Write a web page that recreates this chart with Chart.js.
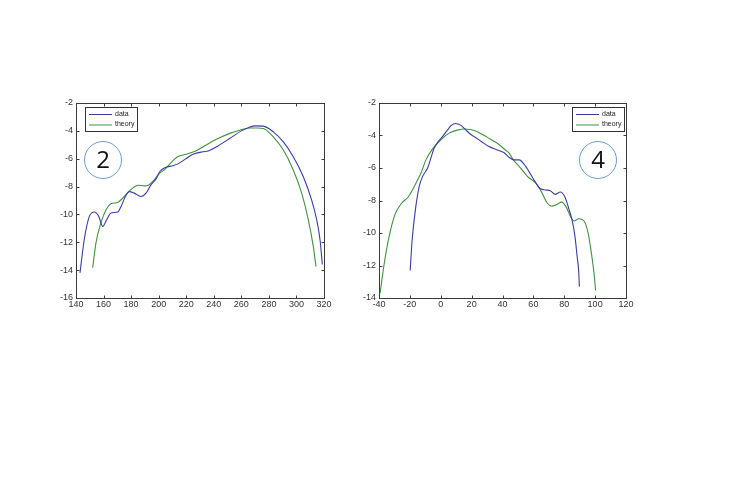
<!DOCTYPE html>
<html>
<head>
<meta charset="utf-8">
<script src="https://cdn.jsdelivr.net/npm/chart.js@4.4.1/dist/chart.umd.min.js"></script>
<style>
  html, body { margin: 0; padding: 0; background: #fff; }
  body { width: 730px; height: 486px; position: relative; overflow: hidden; }
  canvas { position: absolute; }
  #chart2 { left: 26px; top: 93px; }
  #chart4 { left: 330px; top: 93px; }
</style>
</head>
<body>
<canvas id="chart2" width="314" height="230"></canvas>
<canvas id="chart4" width="310" height="230"></canvas>
<script>
// panel 2
const leftDataX = [142.9, 146, 149.7, 153.3, 156.5, 159.4, 162.3, 165.4, 170.3, 172.7, 175.8, 178.7, 182.3, 187.2, 190.8, 194.4, 198.1, 201, 204.5, 210.5, 214, 220, 225, 232, 236, 243, 251.5, 260, 266.3, 270, 275.9, 283.2, 290.5, 297.7, 305, 311, 314.7, 317.1, 318.8];
const leftDataY = [-14.2, -11.8, -10.14, -9.83, -10.14, -10.86, -10.38, -9.9, -9.83, -9.43, -8.71, -8.36, -8.47, -8.71, -8.47, -7.88, -7.45, -6.9, -6.65, -6.5, -6.37, -5.98, -5.68, -5.5, -5.44, -5.08, -4.55, -4.0, -3.72, -3.64, -3.66, -4.07, -4.79, -5.86, -7.29, -8.95, -10.38, -11.8, -13.6];
const leftTheoryX = [152.1, 154.5, 158.1, 161.8, 165.4, 170.3, 173.9, 177.5, 181.2, 184.8, 189.6, 192.8, 196.8, 200, 204.3, 210.4, 214, 220, 227.3, 234.6, 241.9, 251.6, 258.9, 266.3, 272, 275.9, 283.2, 290.5, 297.7, 303.8, 308.6, 312.2, 314.2];
const leftTheoryY = [-13.83, -12.04, -10.61, -9.66, -9.24, -9.14, -8.83, -8.43, -8.11, -7.9, -7.95, -7.88, -7.52, -7.1, -6.79, -6.13, -5.84, -5.68, -5.42, -5.01, -4.61, -4.18, -3.95, -3.8, -3.8, -3.83, -4.43, -5.38, -6.81, -8.47, -10.38, -12.29, -13.75];

// panel 4
const rightDataX = [-19.8, -18.5, -16.4, -13.9, -11.7, -8.5, -6.4, -4.3, -2.1, 1.1, 4.3, 7.0, 9.6, 12.8, 15.9, 19.1, 22.3, 26.5, 31.2, 36.6, 40.9, 44.4, 47.3, 50.8, 55, 60.3, 64.6, 67.8, 71, 74, 77.5, 80.5, 83.1, 85.2, 86.9, 88.3, 89.4, 89.8];
const rightDataY = [-12.31, -10.38, -8.55, -7.12, -6.51, -6.0, -5.39, -4.78, -4.44, -4.07, -3.67, -3.36, -3.26, -3.36, -3.62, -3.91, -4.11, -4.38, -4.68, -4.89, -5.05, -5.35, -5.5, -5.5, -5.9, -6.72, -7.28, -7.35, -7.4, -7.62, -7.48, -7.8, -8.55, -9.26, -10.18, -11.4, -12.41, -13.3];
const rightTheoryX = [-39.3, -36.8, -33.8, -29.8, -25.6, -21, -17.1, -12.8, -9.6, -5.4, -0.1, 5.2, 10.6, 15.9, 22.3, 27.6, 32, 36.6, 41.9, 44.4, 47, 50.8, 56.1, 61.4, 65.6, 68.8, 72, 75.2, 78.3, 81.5, 84.3, 86.4, 89.4, 92.8, 95.4, 97.5, 99.2, 100.3];
const rightTheoryY = [-13.7, -12.0, -10.38, -8.9, -8.2, -7.77, -7.12, -6.31, -5.5, -4.84, -4.28, -3.87, -3.67, -3.6, -3.71, -3.97, -4.22, -4.48, -4.89, -5.1, -5.5, -5.9, -6.51, -6.92, -7.53, -8.14, -8.35, -8.24, -8.1, -8.44, -9.05, -9.26, -9.12, -9.26, -9.97, -11.19, -12.41, -13.53];

const seriesLabels = ['data', 'theory'];
const seriesColors = ['#3b3ba8', '#3f923f'];

function points(xs, ys) {
    return xs.map((x, i) => ({ x: x, y: ys[i] }));
}

// matlab-ish box, inward ticks, legend and the numbered circle
const matlabFrame = {
    id: 'matlabFrame',
    afterDraw(chart, args, opts) {
        const c = chart.ctx;
        const a = chart.chartArea;
        const xs = chart.scales.x, ys = chart.scales.y;
        const L = Math.round(a.left) + 0.5, R = Math.round(a.right) + 0.5;
        const T = Math.round(a.top) + 0.5, B = Math.round(a.bottom) + 0.5;
        c.save();
        c.strokeStyle = '#3a3a3a';
        c.lineWidth = 1;
        c.strokeRect(L, T, R - L, B - T);
        c.beginPath();
        xs.ticks.forEach(t => {
            const px = Math.round(xs.getPixelForValue(t.value)) + 0.5;
            c.moveTo(px, B); c.lineTo(px, B - 3);
            c.moveTo(px, T); c.lineTo(px, T + 3);
        });
        ys.ticks.forEach(t => {
            const py = Math.round(ys.getPixelForValue(t.value)) + 0.5;
            c.moveTo(L, py); c.lineTo(L + 3, py);
            c.moveTo(R, py); c.lineTo(R - 3, py);
        });
        c.stroke();

        // legend
        const lw = 52, lh = 24;
        const lx = opts.legendRight ? Math.round(a.right) - 2 - lw : Math.round(a.left) + 9;
        const ly = Math.round(a.top) + 4;
        c.fillStyle = '#fff';
        c.fillRect(lx + 0.5, ly + 0.5, lw, lh);
        c.strokeStyle = '#333';
        c.strokeRect(lx + 0.5, ly + 0.5, lw, lh);
        c.font = '7px "Liberation Sans", Arial, sans-serif';
        c.textBaseline = 'middle';
        chart.data.datasets.forEach((ds, i) => {
            const yy = ly + 7 + i * 10.5;
            c.strokeStyle = ds.borderColor;
            c.beginPath();
            c.moveTo(lx + 4, yy + 0.5); c.lineTo(lx + 27, yy + 0.5);
            c.stroke();
            c.fillStyle = '#222';
            c.fillText(ds.label, lx + 30, yy);
        });

        // circled panel number
        const cx = opts.legendRight ? a.right - 28 : a.left + 27;
        const cy = a.top + 57;
        c.strokeStyle = '#6f9cc8';
        c.beginPath();
        c.arc(cx, cy, 18.5, 0, Math.PI * 2);
        c.stroke();
        c.fillStyle = '#111';
        c.font = '24px "Open Sans", "Noto Sans", sans-serif';
        c.textAlign = 'center';
        c.textBaseline = 'middle';
        c.fillText(opts.number, cx, cy + 1);
        c.restore();
    }
};

function makeChart(id, dx, dy, tx, ty, xr, yr, yWidth, pad, number, legendRight) {
    return new Chart(document.getElementById(id), {
        type: 'line',
        data: {
            datasets: [
                { label: seriesLabels[0], data: points(dx, dy), borderColor: seriesColors[0], borderWidth: 1.1, pointRadius: 0, cubicInterpolationMode: 'monotone', fill: false },
                { label: seriesLabels[1], data: points(tx, ty), borderColor: seriesColors[1], borderWidth: 1.1, pointRadius: 0, cubicInterpolationMode: 'monotone', fill: false }
            ]
        },
        options: {
            responsive: false,
            animation: false,
            layout: { padding: pad },
            scales: {
                x: {
                    type: 'linear', min: xr[0], max: xr[1],
                    grid: { display: false, drawTicks: false },
                    border: { display: false },
                    ticks: { stepSize: 20, padding: 1, maxRotation: 0, autoSkip: false, color: '#333', font: { family: '"Liberation Sans", Arial, sans-serif', size: 9 } },
                    afterFit: s => { s.height = 25; }
                },
                y: {
                    min: yr[0], max: yr[1],
                    grid: { display: false, drawTicks: false },
                    border: { display: false },
                    ticks: { stepSize: 2, padding: 3, color: '#333', font: { family: '"Liberation Sans", Arial, sans-serif', size: 9 } },
                    afterFit: s => { s.width = yWidth; }
                }
            },
            plugins: {
                legend: { display: false },
                tooltip: { enabled: false },
                matlabFrame: { number: number, legendRight: legendRight }
            }
        },
        plugins: [matlabFrame]
    });
}

makeChart('chart2', leftDataX, leftDataY, leftTheoryX, leftTheoryY, [140, 320], [-16, -2], 50, { left: 0, top: 10, right: 16, bottom: 0 }, '2', false);
makeChart('chart4', rightDataX, rightDataY, rightTheoryX, rightTheoryY, [-40, 120], [-14, -2], 49, { left: 0, top: 10, right: 14, bottom: 0 }, '4', true);
</script>
</body>
</html>
